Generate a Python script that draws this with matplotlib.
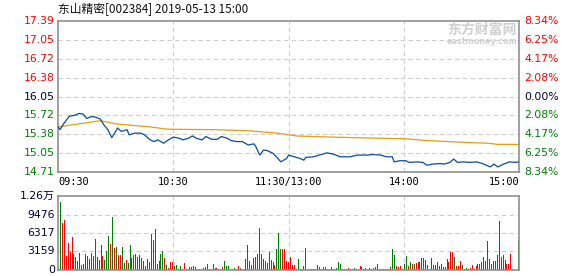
import matplotlib
matplotlib.use("Agg")
import matplotlib.pyplot as plt
import numpy as np

# ---------------- data ----------------
title = "东山精密[002384] 2019-05-13 15:00"
prev_close = 16.05
price_ticks = [17.39, 17.05, 16.72, 16.38, 16.05, 15.72, 15.38, 15.05, 14.71]
pct_labels = ["8.34%", "6.25%", "4.17%", "2.08%", "0.00%", "2.08%", "4.17%", "6.25%", "8.34%"]
time_ticks = [0, 60, 120, 180, 240]
time_labels = ["09:30", "10:30", "11:30/13:00", "14:00", "15:00"]

# minutes since 09:30 (trading minutes) and price
price_t = [0, 1, 3, 5, 6, 9, 11, 13, 15, 17, 19, 22, 24, 26, 28, 30, 31, 33, 36, 37,
           40, 43, 45, 48, 50, 52, 55, 57, 60, 63, 65, 68, 70, 72, 75, 77, 80, 83, 85, 88,
           90, 93, 96, 99, 102, 103, 105, 107, 109, 112, 114, 116, 117, 119, 120, 123, 126, 128, 129, 133,
           136, 140, 143, 147, 152, 156, 161, 164, 168, 171, 174, 175, 178, 181, 183, 187, 190, 192, 195, 199,
           201, 204, 206, 208, 211, 214, 218, 221, 225, 227, 229, 232, 235, 238, 240]
price_v = [15.51, 15.46, 15.57, 15.66, 15.70, 15.72, 15.75, 15.74, 15.66, 15.69,
           15.69, 15.65, 15.54, 15.46, 15.32, 15.43, 15.49, 15.43, 15.46, 15.37,
           15.40, 15.40, 15.37, 15.28, 15.25, 15.28, 15.22, 15.27, 15.33, 15.31,
           15.28, 15.31, 15.35, 15.31, 15.28, 15.34, 15.29, 15.29, 15.34, 15.31,
           15.27, 15.25, 15.25, 15.19, 15.21, 15.16, 15.01, 15.10, 15.09, 15.04,
           14.97, 14.89, 14.91, 14.95, 15.01, 14.98, 14.95, 14.92, 14.97, 14.98,
           15.01, 15.05, 15.03, 14.98, 14.98, 15.01, 15.01, 15.02, 15.01, 14.98,
           14.98, 14.89, 14.91, 14.91, 14.88, 14.89, 14.88, 14.83, 14.85, 14.86,
           14.85, 14.88, 14.94, 14.88, 14.89, 14.88, 14.89, 14.86, 14.80, 14.85,
           14.80, 14.85, 14.89, 14.88, 14.89]

avg_t = [0, 22, 31, 48, 57, 83, 100, 114, 120, 124, 142, 166, 181, 191, 209, 224, 229, 240]
avg_v = [15.51, 15.62, 15.56, 15.51, 15.47, 15.46, 15.44, 15.40, 15.37, 15.35,
         15.33, 15.31, 15.30, 15.27, 15.24, 15.22, 15.20, 15.20]

vol_max = 12635
vol_ticks = [0, 3159, 6317, 9476, 12635]
vol_labels = ["0", "3159", "6317", "9476", "1.26万"]

volume = [11608, 8023, 8535, 2447, 4609, 3130, 5633, 2731, 2276, 1593, 2902, 910, 1081, 2674, 2390,
          1878, 2959, 2390, 5292, 2219, 1707, 4268, 2390, 1707, 3243, 5804, 4438, 9047, 3755, 3926,
          2560, 2560, 3926, 1195, 1707, 1195, 4268, 2048, 2560, 2731, 2219, 2560, 2048, 1536, 683,
          1878, 1366, 6145, 5121, 6999, 1024, 1536, 2731, 3243, 2048, 853, 341, 1366, 1366, 683, 853,
          171, 683, 171, 1195, 171, 171, 512, 512, 683, 512, 171, 171, 171, 341, 512,
          1024, 171, 171, 1024, 341, 341, 171, 171, 512, 1536, 683, 683, 171, 171, 341,
          171, 683, 341, 171, 171, 1878, 4268, 1536, 853, 2048, 2219, 2731, 7169, 2731, 1878,
          1536, 1195, 3072, 1707, 1366, 853, 3585, 6316, 3585, 3585, 3585, 1536, 1366, 2219, 853,
          853, 171, 1878, 171, 171, 683, 3755, 171, 171, 171, 171, 171, 853, 512, 171,
          512, 512, 171, 171, 512, 171, 171, 341, 1366, 1024, 171, 171, 171, 341, 171,
          171, 341, 171, 171, 683, 512, 171, 341, 171, 341, 171, 341, 512, 1024, 171,
          171, 171, 171, 171, 171, 512, 3585, 2560, 683, 512, 683, 171, 1024,
          2390, 683, 1366, 1024, 1024, 1195, 1366, 1366, 2048, 2048, 1707, 853, 171, 2048, 853,
          853, 1366, 683, 1024, 512, 512, 1878, 1366, 3072, 3072, 2219, 683, 683, 1536, 853,
          171, 341, 171, 341, 853, 171, 683, 1024, 1024, 1366, 2219, 1536, 4950, 1878, 1024,
          1536, 1536, 2560, 8364, 2219, 2560, 1707, 1024, 1024, 2731, 171, 0, 0, 5121]
# 1 = up (red), 0 = down (green)
vol_up = [0, 1, 1, 1, 1, 1, 1, 0, 1, 1, 0, 1, 1, 0, 0,
          1, 0, 1, 1, 0, 0, 0, 1, 0, 0, 0, 1, 0, 1, 0,
          1, 1, 0, 0, 1, 0, 0, 1, 1, 0, 1, 0, 1, 0, 0,
          0, 0, 0, 0, 1, 1, 0, 0, 0, 1, 0, 1, 1, 1, 0, 0,
          1, 0, 1, 1, 1, 1, 1, 1, 0, 0, 1, 0, 1, 1, 1,
          0, 1, 1, 0, 1, 1, 1, 1, 1, 0, 0, 0, 1, 1, 0,
          1, 1, 0, 1, 1, 0, 0, 0, 1, 1, 0, 0, 0, 1, 1,
          1, 0, 1, 0, 1, 1, 0, 0, 0, 1, 1, 1, 1, 1, 1,
          1, 0, 0, 1, 1, 0, 1, 1, 1, 1, 0, 0, 0, 1, 1,
          1, 1, 1, 1, 0, 0, 0, 0, 0, 0, 1, 1, 1, 1, 1,
          1, 0, 1, 0, 1, 1, 1, 0, 1, 1, 1, 0, 1, 0, 1,
          1, 1, 1, 1, 1, 1, 0, 0, 1, 1, 1, 1, 0,
          0, 1, 0, 1, 0, 1, 1, 0, 0, 0, 1, 1, 0, 0, 1,
          1, 1, 1, 0, 1, 1, 0, 1, 1, 1, 0, 1, 1, 1, 0,
          1, 0, 1, 1, 1, 1, 1, 0, 0, 0, 0, 0, 0, 1, 1,
          1, 1, 0, 0, 1, 0, 1, 1, 1, 1, 0, 0, 0, 0]

assert len(price_t) == len(price_v)
assert len(avg_t) == len(avg_v)
assert len(volume) == len(vol_up)

# ---------------- style ----------------
W, H = 578, 276
RED = "#FF0000"
GREEN = "#008000"
NAVY = "#000033"
GRID = "#CDCDCD"
SPINE = "#909090"
DASH = (0, (4, 3))
FONT = ["DejaVu Sans", "Noto Sans CJK SC"]

fig = plt.figure(figsize=(W / 100, H / 100), dpi=100)
fig.patch.set_facecolor("white")

ax = fig.add_axes([58 / W, 1 - 172 / H, (519 - 58) / W, (172 - 21) / H])
axv = fig.add_axes([58 / W, 1 - 270 / H, (519 - 58) / W, (270 - 196) / H])

for a in (ax, axv):
    a.set_xlim(0, 240)
    a.set_xticks([])
    a.set_yticks([])
    for s in a.spines.values():
        s.set_color(SPINE)
        s.set_linewidth(1.2)
    for t in time_ticks[1:-1]:
        a.axvline(t, color=GRID, lw=0.8, ls=DASH, zorder=0)

# ---- price panel ----
ax.set_ylim(price_ticks[-1], price_ticks[0])
for p in price_ticks[1:-1]:
    ax.axhline(p, color=GRID, lw=0.8, ls=DASH, zorder=0)

ax.plot(avg_t, avg_v, color="#E0A010", lw=0.9, zorder=2)
ax.plot(price_t, price_v, color="#0A4C9C", lw=0.9, zorder=3)


def level_color(p):
    if abs(p - prev_close) < 1e-6:
        return NAVY
    return RED if p > prev_close else GREEN


for p, lab in zip(price_ticks, pct_labels):
    c = level_color(p)
    ax.annotate(f"{p:.2f}", xy=(0, p), xycoords=("axes fraction", "data"),
                xytext=(-3, 0), textcoords="offset pixels", ha="right", va="center",
                fontsize=7.8, color=c, family=FONT)
    ax.annotate(lab, xy=(1, p), xycoords=("axes fraction", "data"),
                xytext=(5, 0), textcoords="offset pixels", ha="left", va="center",
                fontsize=7.8, color=c, family=FONT)

aligns = ["left", "center", "center", "center", "right"]
for t, lab, al in zip(time_ticks, time_labels, aligns):
    ax.annotate(lab, xy=(t, 0), xycoords=("data", "axes fraction"),
                xytext=(0, -5), textcoords="offset pixels", ha=al, va="top",
                fontsize=7.4, color="black", family="DejaVu Sans Mono")

# ---- volume panel ----
axv.set_ylim(0, vol_max)
for v in vol_ticks[1:-1]:
    axv.axhline(v, color=GRID, lw=0.8, ls=DASH, zorder=0)

xs = np.linspace(1, 239.5, len(volume))
cols = [RED if u else GREEN for u in vol_up]
axv.vlines(xs, 0, volume, colors=cols, linewidth=0.7, antialiased=False, zorder=2)

for v, lab in zip(vol_ticks, vol_labels):
    axv.annotate(lab, xy=(0, v), xycoords=("axes fraction", "data"),
                 xytext=(-3, 0), textcoords="offset pixels", ha="right", va="center",
                 fontsize=7.8, color=NAVY, family=FONT)

# ---- title & watermark ----
fig.text(58 / W, 1 - 10 / H, title, ha="left", va="center", fontsize=8.5,
         color="#111111", family=["Noto Sans CJK SC", "DejaVu Sans"])
fig.text(517 / W, 1 - 30 / H, "东方财富网", ha="right", va="center", fontsize=10,
         color="#D0D0D0", weight="bold", family=["Noto Sans CJK SC", "DejaVu Sans"])
fig.text(517 / W, 1 - 42 / H, "eastmoney.com", ha="right", va="center", fontsize=5.8,
         color="#D0D0D0", weight="bold", family="DejaVu Sans")

fig.savefig("out.png", dpi=100, facecolor="white")
